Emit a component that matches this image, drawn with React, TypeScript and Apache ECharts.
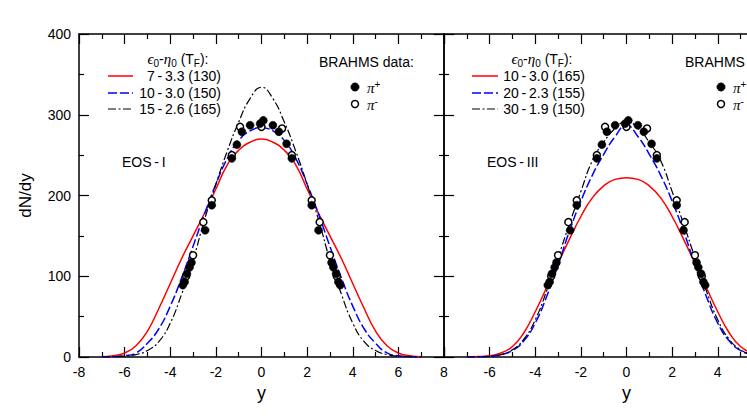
import React, { useEffect, useRef } from 'react';
import * as echarts from 'echarts';

// rapidity grid for hydro curves
const curveY = [-7, -6.5, -6, -5.5, -5, -4.5, -4, -3.5, -3, -2.5, -2, -1.5, -1, -0.5, 0, 0.5, 1, 1.5, 2, 2.5, 3, 3.5, 4, 4.5, 5, 5.5, 6, 6.5, 7];

// EOS-I panel
const eos1Red = [0.3, 1.5, 5, 14, 32, 60, 91, 122, 150, 178, 208, 238, 256, 266, 270, 266, 256, 238, 208, 178, 150, 122, 91, 60, 32, 14, 5, 1.5, 0.3];
const eos1Blue = [0, 0.4, 1.5, 5, 17, 35, 63, 98, 137, 177, 214, 246, 268, 280, 284, 280, 268, 246, 214, 177, 137, 98, 63, 35, 17, 5, 1.5, 0.4, 0];
const eos1Black = [0, 0.3, 1, 3, 8, 19, 42, 78, 120, 170, 214, 255, 291, 320, 334, 320, 291, 255, 214, 170, 120, 78, 42, 19, 8, 3, 1, 0.3, 0];

// EOS-III panel
const eos3Red = [0, 0.5, 1.5, 5, 13, 30, 56, 86, 116, 146, 174, 197, 212, 220, 222, 220, 212, 197, 174, 146, 116, 86, 56, 30, 13, 5, 1.5, 0.5, 0];
const eos3Blue = [0, 0.2, 0.7, 3, 8, 20, 42, 75, 114, 156, 193, 225, 251, 273, 287, 273, 251, 225, 193, 156, 114, 75, 42, 20, 8, 3, 0.7, 0.2, 0];
const eos3Black = [0, 0.2, 0.8, 3, 9, 22, 46, 82, 123, 165, 205, 243, 266, 283, 292, 283, 266, 243, 205, 165, 123, 82, 46, 22, 9, 3, 0.8, 0.2, 0];

// BRAHMS data
const piPlusY = [-3.45, -3.37, -3.27, -3.15, -3.07, -2.47, -2.18, -1.30, -1.08, -0.86, -0.50, -0.06, 0.08, 0.50, 0.76, 1.10, 1.33, 2.20, 2.50, 3.07, 3.15, 3.27, 3.37, 3.45];
const piPlusV = [89, 93, 103, 111, 117, 157, 188, 246, 263, 279, 287, 289, 293, 287, 279, 264, 246, 188, 157, 117, 111, 103, 93, 89];
const piMinusY = [-3.3, -3.0, -2.55, -2.18, -1.30, -0.94, 0.0, 0.90, 1.33, 2.20, 2.55, 3.0, 3.3];
const piMinusV = [100, 126, 167, 194, 250, 285, 285, 283, 250, 194, 167, 126, 100];

const leftLabels = ['7\u2009-\u20093.3 (130)', '10\u2009-\u20093.0 (150)', '15\u2009-\u20092.6 (165)'];
const rightLabels = ['10\u2009-\u20093.0 (165)', '20\u2009-\u20092.3 (155)', '30\u2009-\u20091.9 (150)'];

const FONT = "'Liberation Sans', Arial, Helvetica, sans-serif";
const SERIF = "'Liberation Serif', 'Times New Roman', serif";

const RED = '#ff0000';
const BLUE = '#0000ff';
const BLACK = '#000000';
const DASH = [9, 3];
const DASHDOT = [8, 2.5, 2, 2.5];

function zip(xs: number[], ys: number[]) {
  return xs.map((x, i) => [x, ys[i]]);
}

function txt(x: number, y: number, text: string, align = 'left', size = 14) {
  return {
    type: 'text', x, y, z: 100,
    style: {
      text, fill: '#000', font: `${size}px ${FONT}`,
      align, verticalAlign: 'middle', textAlign: align, textVerticalAlign: 'middle',
    },
  };
}

function richTxt(x: number, y: number, text: string, align = 'left') {
  return {
    type: 'text', x, y, z: 100,
    style: {
      text, fill: '#000', align, verticalAlign: 'middle', textAlign: align, textVerticalAlign: 'middle',
      fontSize: 14, fontFamily: FONT,
      rich: {
        n: { fontSize: 14, fontFamily: FONT, fill: '#000', lineHeight: 18 },
        g: { fontSize: 15, fontFamily: SERIF, fontStyle: 'italic', fill: '#000', lineHeight: 18 },
        s: { fontSize: 10, fontFamily: FONT, fill: '#000', lineHeight: 9, verticalAlign: 'bottom' },
        u: { fontSize: 10, fontFamily: FONT, fill: '#000', lineHeight: 9, verticalAlign: 'top' },
      },
    },
  };
}

function legendBlock(lx1: number, lx2: number, textRight: number, titleX: number, labels: string[], bx: number, bText: string, eosX: number, eosText: string) {
  const els: any[] = [];
  els.push(richTxt(titleX, 59, '{g|ϵ}{s|0}{n|-}{g|η}{s|0}{n| (T}{s|F}{n|):}', 'center'));
  const ys = [76, 93, 109];
  const cols = [RED, BLUE, BLACK];
  const dashes: any[] = [null, DASH, DASHDOT];
  ys.forEach((y, i) => {
    els.push({
      type: 'line', z: 100,
      shape: { x1: lx1, y1: y, x2: lx2, y2: y },
      style: { stroke: cols[i], lineWidth: i === 2 ? 1.2 : 1.5, lineDash: dashes[i] || undefined },
    });
    els.push(txt(textRight, y, labels[i], 'right'));
  });
  els.push(txt(bx, 62, bText, 'left'));
  els.push({ type: 'circle', z: 100, shape: { cx: bx + 36, cy: 87, r: 4 }, style: { fill: '#000', stroke: '#000', lineWidth: 1 } });
  els.push({ type: 'circle', z: 100, shape: { cx: bx + 36, cy: 104, r: 3.5 }, style: { fill: '#fff', stroke: '#000', lineWidth: 1.5 } });
  els.push(richTxt(bx + 48, 88, '{g|π}{u|+}', 'left'));
  els.push(richTxt(bx + 48, 105, '{g|π}{u|-}', 'left'));
  els.push(txt(eosX, 162, eosText, 'left'));
  return els;
}

export default function App() {
  const ref = useRef<HTMLDivElement>(null);

  useEffect(() => {
    if (!ref.current) return;
    const chart = echarts.init(ref.current, undefined, { renderer: 'svg' });

    const axisLine = { show: true, onZero: false, lineStyle: { color: '#000', width: 1.5 } };
    const tick = { show: true, inside: true, length: 10, lineStyle: { color: '#000', width: 1.2 } };
    const minor = { show: true, splitNumber: 2, length: 5, lineStyle: { color: '#000', width: 1.2 } };
    const lab = { color: '#000', fontSize: 14, fontFamily: FONT, margin: 8 };

    const xBase = (grid: number, pos: string, labels: boolean, extra: any = {}) => ({
      type: 'value', gridIndex: grid, position: pos, min: -8, max: 8, interval: 2,
      axisLine, axisTick: tick, minorTick: minor, splitLine: { show: false },
      axisLabel: labels ? { ...lab } : { show: false },
      ...extra,
    });
    const yBase = (grid: number, pos: string, labels: boolean, extra: any = {}) => ({
      type: 'value', gridIndex: grid, position: pos, min: 0, max: 400, interval: 100,
      axisLine, axisTick: tick, minorTick: minor, splitLine: { show: false },
      axisLabel: labels ? { ...lab } : { show: false },
      ...extra,
    });

    const nameStyle = { color: '#000', fontSize: 18, fontFamily: FONT };

    const lineSeries = (name: string, data: number[], color: string, dash: any, axis: number) => ({
      type: 'line', name, xAxisIndex: axis, yAxisIndex: axis,
      data: zip(curveY, data), showSymbol: false, symbol: 'none',
      smooth: 0.5,
      lineStyle: { color, width: dash === DASHDOT ? 1.2 : 1.5, type: dash || 'solid' },
      z: 2,
    });

    const scatterSeries = (axis: number) => [
      {
        type: 'scatter', name: 'pi-', xAxisIndex: axis, yAxisIndex: axis,
        data: zip(piMinusY, piMinusV), symbol: 'circle', symbolSize: 7,
        itemStyle: { color: '#fff', borderColor: '#000', borderWidth: 1.5, opacity: 1 }, z: 3,
      },
      {
        type: 'scatter', name: 'pi+', xAxisIndex: axis, yAxisIndex: axis,
        data: zip(piPlusY, piPlusV), symbol: 'circle', symbolSize: 8,
        itemStyle: { color: '#000', borderColor: '#000', borderWidth: 0.5, opacity: 1 }, z: 4,
      },
    ];

    const option: any = {
      animation: false,
      backgroundColor: '#fff',
      textStyle: { fontFamily: FONT },
      grid: [
        { left: 79, top: 34, width: 365, height: 323, containLabel: false, outerBoundsMode: 'none' },
        { left: 444, top: 34, width: 365, height: 323, containLabel: false, outerBoundsMode: 'none' },
      ],
      xAxis: [
        xBase(0, 'bottom', true, { name: 'y', nameLocation: 'middle', nameGap: 27, nameTextStyle: nameStyle }),
        xBase(0, 'top', false),
        xBase(1, 'bottom', true, {
          axisLabel: { ...lab, showMinLabel: false, formatter: (v: number) => (v > 4 ? '' : String(v)) },
          name: 'y', nameLocation: 'middle', nameGap: 27, nameTextStyle: nameStyle,
        }),
        xBase(1, 'top', false),
      ],
      yAxis: [
        yBase(0, 'left', true, { name: 'dN/dy', nameLocation: 'middle', nameGap: 45, nameTextStyle: { ...nameStyle, fontSize: 17 } }),
        yBase(0, 'right', false),
        yBase(1, 'left', false),
        yBase(1, 'right', false),
      ],
      series: [
        lineSeries('7-3.3', eos1Red, RED, null, 0),
        lineSeries('10-3.0', eos1Blue, BLUE, DASH, 0),
        lineSeries('15-2.6', eos1Black, BLACK, DASHDOT, 0),
        ...scatterSeries(0),
        lineSeries('10-3.0b', eos3Red, RED, null, 2),
        lineSeries('20-2.3', eos3Blue, BLUE, DASH, 2),
        lineSeries('30-1.9', eos3Black, BLACK, DASHDOT, 2),
        ...scatterSeries(2),
      ],
      graphic: [
        ...legendBlock(108, 133, 221, 178, leftLabels, 319, 'BRAHMS data:', 122, 'EOS\u2009-\u2009I'),
        ...legendBlock(472, 498, 585, 542, rightLabels, 685, 'BRAHMS', 487, 'EOS\u2009-\u2009III'),
      ],
    };

    chart.setOption(option);
    return () => chart.dispose();
  }, []);

  return (
    <div
      ref={ref}
      style={{ position: 'fixed', left: 0, top: 0, width: 747, height: 416, background: '#fff' }}
    />
  );
}
